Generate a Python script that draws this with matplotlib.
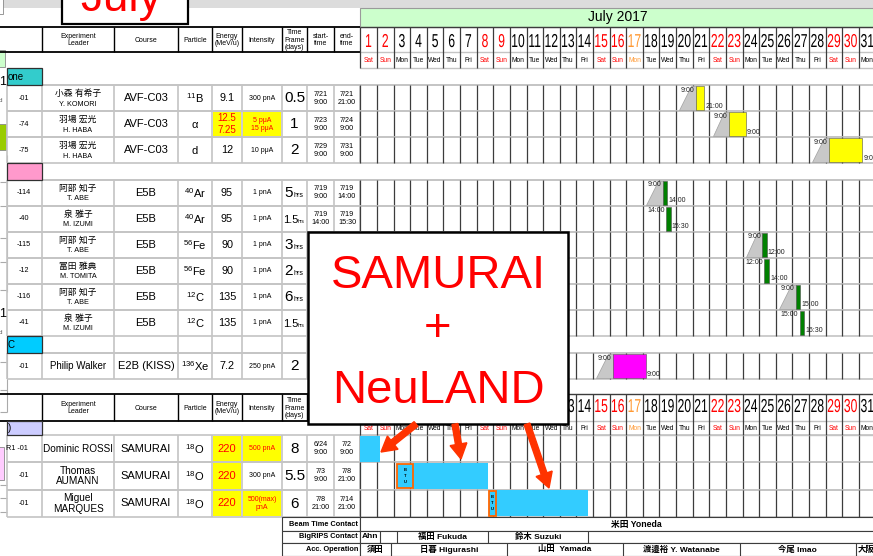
import matplotlib.pyplot as plt
from matplotlib.patches import Rectangle, Polygon, FancyArrow, PathPatch
from matplotlib.textpath import TextPath
from matplotlib.font_manager import FontProperties
from matplotlib.transforms import Affine2D

plt.rcParams['font.family'] = ['Liberation Sans', 'Noto Sans CJK JP', 'DejaVu Sans']
plt.rcParams['mathtext.fontset'] = 'custom'
plt.rcParams['mathtext.rm'] = 'Liberation Sans'
plt.rcParams['mathtext.it'] = 'Liberation Sans:italic'
plt.rcParams['mathtext.bf'] = 'Liberation Sans:bold'

# ------------------------------ data -------------------------------------
MONTH_TITLE = 'July 2017'
N_DAYS = 31
WEEKDAYS = ['Mon', 'Tue', 'Wed', 'Thu', 'Fri', 'Sat', 'Sun']
FIRST_WEEKDAY = 5            # 7/1/2017 is a Saturday
HOLIDAYS = [17]              # Marine Day

HEADERS = ['Experiment\nLeader', 'Course', 'Particle', 'Energy\n(MeV/u)',
           'Intensity', 'Time\nFrame\n(days)', 'start-\ntime', 'end-\ntime']

# upper block (AVF / E5B / KISS)
A_SECTIONS = ['one', '', 'C']
A_SECTION_SIZES = [3, 6, 1]
A_IDS = ['-01', '-74', '-75', '-114', '-40', '-115', '-12', '-116', '-41', '-01']
A_LEADER_JP = ['小森 有希子', '羽場 宏光', '羽場 宏光', '阿部 知子', '泉 雅子',
               '阿部 知子', '冨田 雅典', '阿部 知子', '泉 雅子', '']
A_LEADER_EN = ['Y. KOMORI', 'H. HABA', 'H. HABA', 'T. ABE', 'M. IZUMI',
               'T. ABE', 'M. TOMITA', 'T. ABE', 'M. IZUMI', 'Philip Walker']
A_COURSE = ['AVF-C03'] * 3 + ['E5B'] * 6 + ['E2B (KISS)']
A_MASS = ['11', '', '', '40', '40', '56', '56', '12', '12', '136']
A_SYMBOL = ['B', 'α', 'd', 'Ar', 'Ar', 'Fe', 'Fe', 'C', 'C', 'Xe']
A_ENERGY = ['9.1', '12.5\n7.25', '12', '95', '95', '90', '90', '135', '135', '7.2']
A_INTENSITY = ['300 pnA', '5 pμA\n15 pμA', '10 pμA', '1 pnA', '1 pnA', '1 pnA',
               '1 pnA', '1 pnA', '1 pnA', '250 pnA']
A_HIGHLIGHT = [False, True, False, False, False, False, False, False, False, False]
A_TF = ['0.5', '1', '2', '5', '1.5', '3', '2', '6', '1.5', '2']
A_TF_UNIT = ['', '', '', 'hrs', 'hrs', 'hrs', 'hrs', 'hrs', 'hrs', '']
A_START = ['7/21 9:00', '7/23 9:00', '7/29 9:00', '7/19 9:00', '7/19 14:00',
           '7/25 9:00', '7/25 12:00', '7/27 9:00', '7/27 15:00', '7/16 9:00']
A_END = ['7/21 21:00', '7/24 9:00', '7/31 9:00', '7/19 14:00', '7/19 15:30',
         '7/25 12:00', '7/25 14:00', '7/27 15:00', '7/27 16:30', '7/18 9:00']
A_RAMP = [True, True, True, True, False, True, False, True, False, True]

# lower block (SAMURAI)
B_SECTION = ')'
B_IDS = ['R1 -01', '-01', '-01']
B_LEADER = ['Dominic ROSSI', 'Thomas\nAUMANN', 'Miguel\nMARQUES']
B_COURSE = ['SAMURAI', 'SAMURAI', 'SAMURAI']
B_MASS = ['18', '18', '18']
B_SYMBOL = ['O', 'O', 'O']
B_ENERGY = ['220', '220', '220']
B_INTENSITY = ['500 pnA', '300 pnA', '500(max)\npnA']
B_HIGHLIGHT = [True, False, True]
B_TF = ['8', '5.5', '6']
B_START = ['6/24 9:00', '7/3 9:00', '7/8 21:00']
B_END = ['7/2 9:00', '7/8 21:00', '7/14 21:00']
B_BTU_HOURS = [0, 24, 12]

# contacts
CONTACT_LABELS = ['Beam Time Contact', 'BigRIPS Contact', 'Acc. Operation']
BEAM_CONTACT = '米田 Yoneda'
BIGRIPS_NAMES = ['Ahn', '', '福田 Fukuda', '鈴木 Suzuki', '']
BIGRIPS_EDGES = ['7/2 9:00', '7/3 9:00', '7/8 21:00', '7/14 21:00']
ACC_NAMES = ['須田', '日暮 Higurashi', '山田  Yamada', '渡邉裕 Y. Watanabe', '今尾 Imao', '大阪']
ACC_EDGES = ['7/3 0:00', '7/10 0:00', '7/17 0:00', '7/24 0:00', '7/31 0:00']

OVERLAY_TEXT = ['SAMURAI', '+', 'NeuLAND']
MONTH_BADGE = 'July'

# ------------------------------ style ------------------------------------
GRID = '#c4c4c4'
DARK = '#3c3c3c'
RED = '#ff0000'
YELLOW = '#ffff00'
SEC_COLORS = ['#33cccc', '#ff99cc', '#00ccff']
LAVENDER = '#ccccff'
BAR_COLORS = {'AVF-C03': '#ffff00', 'E5B': '#008000', 'E2B (KISS)': '#ff00ff'}
SKY = '#33ccff'
RAMP = '#c8c8c8'
ARROW = '#ff3300'

COLS = [7, 42, 114, 178, 212, 242, 282, 307, 334, 360]
CAL_X0, DAY_W, BAR_SHIFT, RIGHT = 360.3, 16.62, -3.0, 873
FP = FontProperties(family='Liberation Sans')

fig = plt.figure(figsize=(8.73, 5.56), dpi=100)
ax = fig.add_axes([0, 0, 1, 1])
ax.set_xlim(0, 873)
ax.set_ylim(556, 0)
ax.axis('off')


def hl(y, x0, x1, c=GRID, lw=1.2, z=2):
    ax.plot([x0, x1], [y, y], color=c, lw=lw, zorder=z, solid_capstyle='butt')


def vl(x, y0, y1, c=GRID, lw=1.2, z=2):
    ax.plot([x, x], [y0, y1], color=c, lw=lw, zorder=z, solid_capstyle='butt')


def box(x0, y0, x1, y1, fc, ec='none', lw=0, z=1):
    ax.add_patch(Rectangle((x0, y0), x1 - x0, y1 - y0, fc=fc, ec=ec, lw=lw, zorder=z))


def tx(x, y, s, size, color='black', ha='center', va='center', weight='normal', z=5, **kw):
    ax.text(x, y, s, fontsize=size, color=color, ha=ha, va=va,
            fontweight=weight, zorder=z, **kw)


def narrow(xc, yb, s, size, color, sx=0.65):
    p = TextPath((0, 0), s, size=size, prop=FP)
    e = p.get_extents()
    tr = Affine2D().translate(-(e.x0 + e.x1) / 2, 0).scale(sx, -1).translate(xc, yb)
    ax.add_patch(PathPatch(tr.transform_path(p), fc=color, ec='none', zorder=5))


def t2d(s):
    md, hm = s.split()
    m, d = (int(v) for v in md.split('/'))
    h, mi = (int(v) for v in hm.split(':'))
    return (d - 1 if m == 7 else d - 31) + (h + mi / 60) / 24


def tx_x(t):
    return CAL_X0 + t * DAY_W + BAR_SHIFT


def day_x(k):
    return CAL_X0 + k * DAY_W


def day_color(d):
    wd = (FIRST_WEEKDAY + d - 1) % 7
    if d in HOLIDAYS:
        return '#ff9933'
    return RED if wd >= 5 else 'black'


def table_header(y0, y1):
    hl(y0, 0, 360, 'black', 1.3, 3)
    hl(y1, 0, 360, 'black', 1.3, 3)
    for c in COLS[1:-1]:
        vl(c, y0, y1, 'black', 1.0, 3)
    for i, h in enumerate(HEADERS):
        tx((COLS[i + 1] + COLS[i + 2]) / 2, (y0 + y1) / 2 + 0.5, h, 5.0,
           linespacing=1.05)


def calendar_header(yd0, yd1, yw1, baseline):
    hl(yd0, 360, RIGHT, DARK, 1.0, 3)
    hl(yd1, 360, RIGHT, GRID, 1.0, 3)
    hl(yw1, 360, RIGHT, GRID, 1.0, 3)
    for k in range(N_DAYS + 1):
        vl(day_x(k), yd0, yw1, DARK, 0.9, 3)
    for d in range(1, N_DAYS + 1):
        xc = day_x(d - 0.5)
        narrow(xc, baseline, str(d), 18.7, day_color(d))
        tx(xc, (yd1 + yw1) / 2 + 0.5, WEEKDAYS[(FIRST_WEEKDAY + d - 1) % 7], 4.8,
           color=day_color(d))


def particle(m, s):
    return f'$^{{{m}}}$' + s if m else s


def data_row(y0, y1, cal=True):
    hl(y0, 7, RIGHT)
    hl(y1, 7, RIGHT)
    for c in COLS:
        vl(c, y0, y1)
    if cal:
        for k in range(N_DAYS + 1):
            vl(day_x(k), y0, y1, DARK, 0.9)


def bar(y0, y1, start, end, color, ramp, labels=True):
    xs, xe = tx_x(t2d(start)), tx_x(t2d(end))
    if xe - xs < 4.5:
        xe = xs + 4.5
    if ramp:
        ax.add_patch(Polygon([(xs - DAY_W, y1 - 0.8), (xs, y1 - 0.8), (xs, y0 + 1),
                              (xs - 5, y0 + 1)], closed=True, fc=RAMP,
                             ec='#a0a0a0', lw=0.5, zorder=3))
    box(xs, y0 + 0.8, xe, y1 - 0.8, color, ec='#505050', lw=0.4, z=3)
    if labels:
        tx(xs - 1.5, y0 + 5, start.split()[1], 5, '#222222', ha='right', z=4)
        tx(xe + 1, y1 - 5, end.split()[1], 5, '#222222', ha='left', z=4)


# ---- background pieces ----
box(0, 0, RIGHT, 7.5, '#dcdcdc', z=0)
box(360, 8, RIGHT + 5, 27, '#ccffcc', ec='#9a9a9a', lw=0.8, z=1)
tx((360 + RIGHT + 2) / 2, 17.5, MONTH_TITLE, 10)

# left strip fragments
box(-1, -1, 3, 14, 'white', ec='#888888', lw=0.6)
box(-1, 50, 5, 67, '#ccffcc', ec='#888888', lw=0.6)
tx(-1, 82, '1', 9, ha='left')
tx(-1, 101, 'd', 4.5, '#555555', ha='left')
box(-1, 124, 6, 150, '#99cc00', ec='#888888', lw=0.6)
vl(7, 155, 292, '#aaaaaa', 0.8)
for yy in (182, 206, 238, 262, 290):
    hl(yy, 0, 7, '#aaaaaa', 0.8)
tx(-1, 314, '1', 9, ha='left')
tx(-1, 332, 'd', 4.5, '#555555', ha='left')
vl(7, 340, 412, '#aaaaaa', 0.8)
for yy in (362, 390, 412):
    hl(yy, 0, 7, '#aaaaaa', 0.8)
box(-1, 447, 4, 480, '#ffccff', ec='#888888', lw=0.6)
for yy in (485, 498, 512):
    hl(yy, 0, 7, '#aaaaaa', 0.8)

# ---- upper block ----
table_header(27, 52)
calendar_header(27, 52, 68, 47)

rows_a = []
y = 68
for si, n in enumerate(A_SECTION_SIZES):
    box(7, y, 42, y + 17, SEC_COLORS[si], ec='#303030', lw=0.9, z=3)
    tx(8, y + 8.5, A_SECTIONS[si], 7, ha='left')
    hl(y + 17, 7, RIGHT)
    if si == 2:
        for c in COLS[1:]:
            vl(c, y, y + 17)
    y += 17
    for _ in range(n):
        rows_a.append((y, y + 26))
        y += 26

for i, (y0, y1) in enumerate(rows_a):
    data_row(y0, y1)
    yc = (y0 + y1) / 2
    tx(24, yc, A_IDS[i], 5.2)
    if A_LEADER_JP[i]:
        tx(78, y0 + 8.5, A_LEADER_JP[i], 6.3)
        tx(78, y0 + 19, A_LEADER_EN[i], 5.2)
    else:
        tx(78, yc, A_LEADER_EN[i], 7)
    tx(146, yc, A_COURSE[i], 8)
    tx(195, yc + 0.5, particle(A_MASS[i], A_SYMBOL[i]), 8)
    ecol = RED if A_HIGHLIGHT[i] else 'black'
    if A_HIGHLIGHT[i]:
        box(212.7, y0 + 0.7, 241.3, y1 - 0.7, YELLOW, z=1.5)
        box(242.7, y0 + 0.7, 281.3, y1 - 0.7, YELLOW, z=1.5)
    tx(227, yc, A_ENERGY[i], 7 if '\n' in A_ENERGY[i] else 7.8, ecol, linespacing=1.15)
    tx(262, yc, A_INTENSITY[i], 5, ecol, linespacing=1.2)
    if A_TF_UNIT[i]:
        small = len(A_TF[i]) > 1
        xs = 298 if small else 293
        tx(xs, yc + 4, A_TF[i], 8 if small else 11, ha='right', va='baseline')
        tx(xs, yc + 4, A_TF_UNIT[i], 3.5 if small else 5, ha='left', va='baseline')
    else:
        tx(294.5, yc + 0.5, A_TF[i], 11)
    tx(320.5, yc, A_START[i].replace(' ', '\n'), 5.2, linespacing=1.2)
    tx(347, yc, A_END[i].replace(' ', '\n'), 5.2, linespacing=1.2)
    bar(y0, y1, A_START[i], A_END[i], BAR_COLORS[A_COURSE[i]], A_RAMP[i])

# ---- lower block ----
table_header(394, 421)
calendar_header(394, 421, 435, 412)
box(7, 421, 42, 435, LAVENDER, ec='#303030', lw=0.9, z=3)
tx(8, 428, B_SECTION, 7, ha='left')

rows_b = [(435 + 27.3 * k, 435 + 27.3 * (k + 1)) for k in range(3)]
for i, (y0, y1) in enumerate(rows_b):
    data_row(y0, y1)
    yc = (y0 + y1) / 2
    if i == 0:
        tx(6.5, yc, B_IDS[i], 5.2, ha='left')
    else:
        tx(24, yc, B_IDS[i], 5.2)
    tx(78, yc, B_LEADER[i], 7.2, linespacing=1.1)
    tx(146, yc, B_COURSE[i], 8)
    tx(195, yc + 0.5, particle(B_MASS[i], B_SYMBOL[i]), 8)
    box(212.7, y0 + 0.7, 241.3, y1 - 0.7, YELLOW, z=1.5)
    tx(227, yc, B_ENERGY[i], 8, RED)
    if B_HIGHLIGHT[i]:
        box(242.7, y0 + 0.7, 281.3, y1 - 0.7, YELLOW, z=1.5)
    tx(262, yc, B_INTENSITY[i], 5, RED if B_HIGHLIGHT[i] else 'black', linespacing=1.2)
    tx(294.5, yc + 0.5, B_TF[i], 11)
    tx(320.5, yc, B_START[i].replace(' ', '\n'), 5.2, linespacing=1.2)
    tx(347, yc, B_END[i].replace(' ', '\n'), 5.2, linespacing=1.2)
    xs = max(tx_x(t2d(B_START[i])), CAL_X0)
    xe = tx_x(t2d(B_END[i]))
    xb = xs + B_BTU_HOURS[i] / 24 * DAY_W
    box(xb, y0 + 0.8, xe, y1 - 0.8, SKY, z=3)
    if B_BTU_HOURS[i]:
        box(xs + 0.6, y0 + 1.2, xb - 0.6, y1 - 1.2, SKY, ec='#ff6600', lw=1.3, z=3.5)
        tx((xs + xb) / 2, (y0 + y1) / 2, 'B\nT\nU', 3, linespacing=1.6, weight='bold')

# ---- contact table ----
ct = [(517, 531), (531, 543), (543, 556)]
for (y0, y1), lab in zip(ct, CONTACT_LABELS):
    box(282, y0, 360, y1, 'white', ec=DARK, lw=0.8, z=2)
    box(360, y0, RIGHT + 5, y1, 'white', ec=DARK, lw=0.8, z=2)
    tx(358, (y0 + y1) / 2, lab, 5.3, ha='right', weight='bold')
tx(636, 524, BEAM_CONTACT, 6.3, weight='bold')


def contact_cells(y0, y1, names, edges):
    xs = [360] + [tx_x(t2d(e)) for e in edges] + [RIGHT + 40]
    for k, nm in enumerate(names):
        if k > 0:
            vl(xs[k], y0, y1, DARK, 0.8, 3)
        if not nm:
            continue
        if xs[k + 1] > RIGHT:
            tx(xs[k] + 2, (y0 + y1) / 2, nm, 6, ha='left', weight='bold')
        else:
            tx((xs[k] + xs[k + 1]) / 2, (y0 + y1) / 2, nm, 6, weight='bold')


contact_cells(531, 543, BIGRIPS_NAMES, BIGRIPS_EDGES)
contact_cells(543, 556, ACC_NAMES, ACC_EDGES)

# ---- overlays ----
box(62, -3, 188, 24, 'white', ec='black', lw=1.6, z=10)
tx(121, 11, MONTH_BADGE, 33, RED, va='baseline', z=11)

box(308, 232, 568, 424, 'white', ec='black', lw=1.8, z=10)
tx(438, 288, OVERLAY_TEXT[0], 34, RED, va='baseline', z=11)
tx(438, 329, OVERLAY_TEXT[1], 34, RED, z=11)
tx(438, 403, OVERLAY_TEXT[2], 34, RED, va='baseline', z=11)

for (x0, y0), (x1, y1) in [((416, 424), (381, 452)), ((455, 424), (461, 459)),
                           ((527, 424), (549, 488))]:
    ax.add_patch(FancyArrow(x0, y0, x1 - x0, y1 - y0, width=6, head_width=17,
                            head_length=15, length_includes_head=True,
                            color=ARROW, zorder=12))

fig.savefig('out.png', dpi=100)
